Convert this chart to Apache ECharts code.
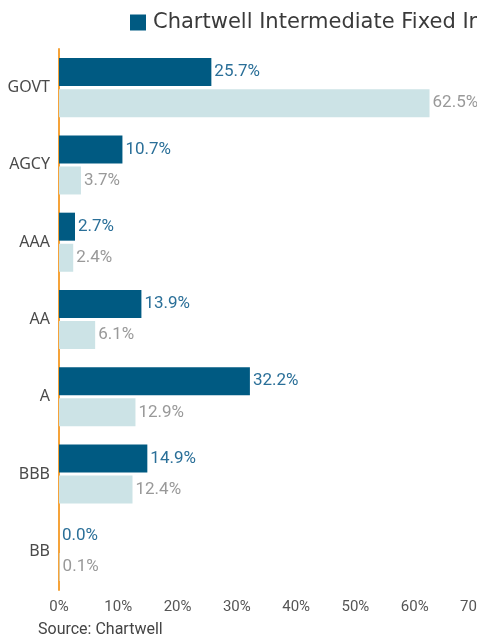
<!DOCTYPE html>
<html>
<head>
<meta charset="utf-8">
<script src="https://cdn.jsdelivr.net/npm/echarts@6/dist/echarts.min.js"></script>
<style>
  html, body { margin: 0; padding: 0; background: #fff; }
  #chart { width: 477px; height: 641px; }
</style>
</head>
<body>
<div id="chart"></div>
<script>
// credit quality breakdown
const categories = ['GOVT', 'AGCY', 'AAA', 'AA', 'A', 'BBB', 'BB'];
const fundValues = [25.7, 10.7, 2.7, 13.9, 32.2, 14.9, 0.0];
const indexValues = [62.5, 3.7, 2.4, 6.1, 12.9, 12.4, 0.1];
const seriesNames = ['Chartwell Intermediate Fixed Income', 'Index'];
const xTicks = [0, 10, 20, 30, 40, 50, 60, 70];

const narrow = 'Roboto, "Liberation Sans", sans-serif';

const chart = echarts.init(document.getElementById('chart'), null, { renderer: 'canvas' });

const option = {
  backgroundColor: '#ffffff',
  animation: false,
  legend: {
    data: [seriesNames[0]],
    left: 125,
    top: 7,
    itemWidth: 16,
    itemHeight: 16,
    icon: 'rect',
    textStyle: { fontFamily: '"DejaVu Sans", sans-serif', fontSize: 21, color: '#3a3a3a', padding: [0, 0, 0, 2] }
  },
  grid: { left: 59, right: 3, top: 49, bottom: 51, outerBoundsMode: 'none', containLabel: false },
  xAxis: {
    type: 'value',
    min: xTicks[0],
    max: xTicks[xTicks.length - 1],
    interval: 10,
    axisLine: { show: false },
    axisTick: { show: false },
    splitLine: { show: false },
    axisLabel: {
      formatter: v => v + '%',
      fontFamily: narrow,
      fontSize: 15,
      color: '#555',
      margin: 10
    }
  },
  yAxis: {
    type: 'category',
    data: categories,
    inverse: true,
    axisLine: { show: true, lineStyle: { color: '#f5a33a', width: 2 } },
    axisTick: { show: false },
    axisLabel: { fontFamily: '"Noto Sans", sans-serif', fontSize: 16, color: '#4a4a4a', margin: 9 }
  },
  series: [
    {
      name: seriesNames[0],
      type: 'bar',
      data: fundValues,
      barWidth: 28,
      barGap: '11%',
      itemStyle: { color: '#005a82' },
      label: {
        show: true,
        position: 'right',
        distance: 3,
        formatter: p => p.value.toFixed(1) + '%',
        fontFamily: narrow,
        fontSize: 17,
        color: '#2a6f98'
      }
    },
    {
      name: seriesNames[1],
      type: 'bar',
      data: indexValues,
      barWidth: 28,
      itemStyle: { color: '#cce3e6' },
      label: {
        show: true,
        position: 'right',
        distance: 3,
        formatter: p => p.value.toFixed(1) + '%',
        fontFamily: narrow,
        fontSize: 17,
        color: '#999'
      }
    }
  ],
  graphic: [{
    type: 'text',
    left: 38,
    top: 622,
    style: { text: 'Source: Chartwell', font: '16px ' + narrow, fill: '#444' }
  }]
};

chart.setOption(option);
</script>
</body>
</html>
